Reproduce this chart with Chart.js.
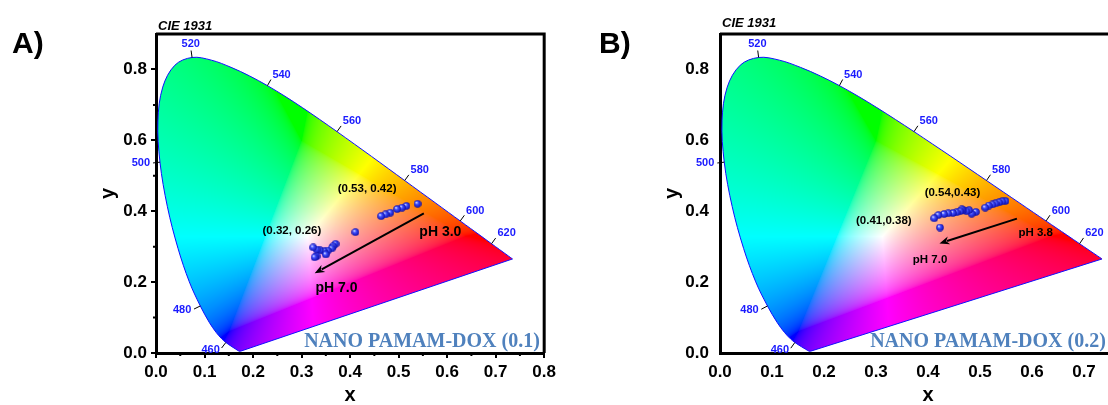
<!DOCTYPE html>
<html>
<head>
<meta charset="utf-8">
<script src="https://cdn.jsdelivr.net/npm/chart.js@4/dist/chart.umd.min.js"></script>
<style>
    html, body { margin: 0; padding: 0; background: #fff; overflow: hidden; }
    #wrap { position: relative; width: 1108px; height: 405px; overflow: hidden; }
    .panel { position: absolute; top: 0; }
    #pa { left: 0; }
    #pb { left: 560px; }
</style>
</head>
<body>
<div id="wrap">
    <div class="panel" id="pa"><canvas id="chartA" width="560" height="405"></canvas></div>
    <div class="panel" id="pb"><canvas id="chartB" width="600" height="405"></canvas></div>
</div>
<script>
// CIE 1931 2-degree spectral locus (wavelength, x, y)
const locusNm = [380, 400, 420, 430, 440, 450, 460, 465, 470, 475, 480, 485, 490, 495, 500, 505, 510, 515, 520, 525, 530,
    535, 540, 545, 550, 555, 560, 565, 570, 575, 580, 585, 590, 595, 600, 605, 610, 615, 620, 630, 640, 650, 660, 680, 700];
const locusX = [0.1741, 0.1733, 0.1714, 0.1689, 0.1644, 0.1566, 0.1440, 0.1355, 0.1241, 0.1096, 0.0913, 0.0687, 0.0454,
    0.0235, 0.0082, 0.0039, 0.0139, 0.0389, 0.0743, 0.1142, 0.1547, 0.1929, 0.2296, 0.2658, 0.3016, 0.3373, 0.3731,
    0.4087, 0.4441, 0.4788, 0.5125, 0.5448, 0.5752, 0.6029, 0.6270, 0.6482, 0.6658, 0.6801, 0.6915, 0.7079, 0.7190,
    0.7260, 0.7300, 0.7334, 0.7347];
const locusY = [0.0050, 0.0048, 0.0051, 0.0069, 0.0109, 0.0177, 0.0297, 0.0399, 0.0578, 0.0868, 0.1327, 0.2007, 0.2950,
    0.4127, 0.5384, 0.6548, 0.7502, 0.8120, 0.8338, 0.8262, 0.8059, 0.7816, 0.7543, 0.7243, 0.6923, 0.6589, 0.6245,
    0.5896, 0.5547, 0.5202, 0.4866, 0.4544, 0.4242, 0.3965, 0.3725, 0.3514, 0.3340, 0.3197, 0.3083, 0.2920, 0.2809,
    0.2740, 0.2700, 0.2666, 0.2653];
const labelNm = [460, 480, 500, 520, 540, 560, 580, 600, 620];

const xTicks = [0, 0.1, 0.2, 0.3, 0.4, 0.5, 0.6, 0.7, 0.8];
const yTicks = [0, 0.2, 0.4, 0.6, 0.8];
const xMinor = [0.05, 0.15, 0.25, 0.35, 0.45, 0.55, 0.65, 0.75];
const yMinor = [0.1, 0.3, 0.5, 0.7];

// NANO PAMAM-DOX (0.1), pH 3.0 -> 7.0
const aX = [0.539, 0.516, 0.507, 0.497, 0.483, 0.473, 0.464, 0.411, 0.370, 0.365, 0.362, 0.354, 0.347, 0.338, 0.331,
    0.324, 0.350, 0.331, 0.327];
const aY = [0.421, 0.415, 0.410, 0.406, 0.396, 0.391, 0.386, 0.341, 0.308, 0.301, 0.295, 0.289, 0.287, 0.290, 0.292,
    0.298, 0.278, 0.273, 0.270];

// NANO PAMAM-DOX (0.2), pH 3.8 -> 7.0
const bX = [0.549, 0.543, 0.537, 0.530, 0.524, 0.517, 0.510, 0.492, 0.484, 0.479, 0.474, 0.468, 0.465, 0.462, 0.455,
    0.448, 0.439, 0.431, 0.420, 0.412, 0.423];
const bY = [0.429, 0.428, 0.425, 0.422, 0.419, 0.416, 0.410, 0.398, 0.393, 0.403, 0.400, 0.403, 0.405, 0.400, 0.397,
    0.395, 0.394, 0.392, 0.389, 0.380, 0.354];

const FONT = "'Liberation Sans', Arial, sans-serif";

const panels = {
    chartA: {
        letter: 'A)', letterX: 12, cieDy: 4, ticks: true, sphere: 8,
        notes: [
            { text: '(0.53, 0.42)', x: 0.435, y: 0.464, size: 11.5 },
            { text: '(0.32, 0.26)', x: 0.280, y: 0.344, size: 11.5 },
            { text: 'pH 3.0', x: 0.586, y: 0.342, size: 14 },
            { text: 'pH 7.0', x: 0.372, y: 0.182, size: 14 }
        ],
        arrow: { from: [0.552, 0.394], to: [0.327, 0.225] },
        name: { text: 'NANO PAMAM-DOX (0.1)', x: 0.791, y: 0.032 }
    },
    chartB: {
        letter: 'B)', letterX: 39, cieDy: 7, ticks: false, sphere: 8,
        notes: [
            { text: '(0.54,0.43)', x: 0.447, y: 0.453, size: 11.5 },
            { text: '(0.41,0.38)', x: 0.315, y: 0.373, size: 11.5 },
            { text: 'pH 3.8', x: 0.607, y: 0.340, size: 11.5 },
            { text: 'pH 7.0', x: 0.404, y: 0.262, size: 11.5 }
        ],
        arrow: { from: [0.571, 0.379], to: [0.422, 0.309] },
        name: { text: 'NANO PAMAM-DOX (0.2)', x: 0.742, y: 0.032 }
    }
};

function sphere(d) {
    const c = document.createElement('canvas');
    c.width = c.height = d;
    const g = c.getContext('2d');
    const r = d / 2;
    const grad = g.createRadialGradient(r * 0.7, r * 0.65, 0.3, r, r, r);
    grad.addColorStop(0, '#d8deff');
    grad.addColorStop(0.35, '#3d4cff');
    grad.addColorStop(1, '#0a0aa0');
    g.fillStyle = grad;
    g.beginPath();
    g.arc(r, r, r - 0.2, 0, Math.PI * 2);
    g.fill();
    return c;
}

// chromaticity -> display colour; out-of-gamut colours get a little white mixed in
function xyToRgb(x, y) {
    const X = x / y, Z = (1 - x - y) / y;
    let r = 3.2406 * X - 1.5372 - 0.4986 * Z;
    let g = -0.9689 * X + 1.8758 + 0.0415 * Z;
    let b = 0.0557 * X - 0.2040 + 1.0570 * Z;
    const lift = Math.max(0, -Math.min(r, g, b)) * 0.35;
    r = Math.max(r + lift, 0); g = Math.max(g + lift, 0); b = Math.max(b + lift, 0);
    const m = Math.max(r, g, b) || 1;
    return [r, g, b].map(v => {
        v = v / m;
        v = v <= 0.0031308 ? 12.92 * v : 1.055 * Math.pow(v, 1 / 2.4) - 0.055;
        return Math.round(v * 255);
    });
}

// outline of the horseshoe, taken from the (smoothed) locus line element
function locusPath(chart, ctx) {
    const line = chart.getDatasetMeta(1).dataset;
    ctx.beginPath();
    if (line && typeof line.path === 'function') {
        line.updateControlPoints(chart.chartArea, 'x');
        line.path(ctx);
    } else {
        const xs = chart.scales.x, ys = chart.scales.y;
        locusX.forEach((x, i) => ctx.lineTo(xs.getPixelForValue(x), ys.getPixelForValue(locusY[i])));
    }
    ctx.closePath();
}

function buildGamut(chart) {
    const xs = chart.scales.x, ys = chart.scales.y;
    const x0 = Math.floor(xs.getPixelForValue(0)), x1 = Math.ceil(xs.getPixelForValue(0.74));
    const y0 = Math.floor(ys.getPixelForValue(0.84)), y1 = Math.ceil(ys.getPixelForValue(0));
    const w = x1 - x0, h = y1 - y0;
    const off = document.createElement('canvas');
    off.width = w; off.height = h;
    const octx = off.getContext('2d');
    const img = octx.createImageData(w, h);
    for (let j = 0; j < h; j++) {
        const cy = Math.max(ys.getValueForPixel(y0 + j + 0.5), 0.002);
        for (let i = 0; i < w; i++) {
            const cx = xs.getValueForPixel(x0 + i + 0.5);
            const c = xyToRgb(cx, cy);
            const k = (j * w + i) * 4;
            img.data[k] = c[0]; img.data[k + 1] = c[1]; img.data[k + 2] = c[2]; img.data[k + 3] = 255;
        }
    }
    octx.putImageData(img, 0, 0);
    return { off, x0, y0 };
}

function drawArrow(ctx, x1, y1, x2, y2) {
    const a = Math.atan2(y2 - y1, x2 - x1);
    const hl = 10, hw = 4;
    ctx.strokeStyle = '#000';
    ctx.fillStyle = '#000';
    ctx.lineWidth = 2;
    ctx.beginPath();
    ctx.moveTo(x1, y1);
    ctx.lineTo(x2 - Math.cos(a) * hl * 0.8, y2 - Math.sin(a) * hl * 0.8);
    ctx.stroke();
    ctx.beginPath();
    ctx.moveTo(x2, y2);
    ctx.lineTo(x2 - Math.cos(a) * hl + Math.sin(a) * hw, y2 - Math.sin(a) * hl - Math.cos(a) * hw);
    ctx.lineTo(x2 - Math.cos(a) * hl * 0.7, y2 - Math.sin(a) * hl * 0.7);
    ctx.lineTo(x2 - Math.cos(a) * hl - Math.sin(a) * hw, y2 - Math.sin(a) * hl + Math.cos(a) * hw);
    ctx.closePath();
    ctx.fill();
}

const decor = {
    id: 'decor',
    beforeDatasetsDraw(chart) {
        const ctx = chart.ctx;
        if (!chart.$gamut) chart.$gamut = buildGamut(chart);
        ctx.save();
        locusPath(chart, ctx);
        ctx.clip();
        ctx.drawImage(chart.$gamut.off, chart.$gamut.x0, chart.$gamut.y0);
        ctx.restore();
    },
    afterDraw(chart) {
        const cfg = panels[chart.canvas.id];
        const ctx = chart.ctx;
        const xs = chart.scales.x, ys = chart.scales.y;
        const area = chart.chartArea;
        ctx.save();

        // top and right frame
        ctx.strokeStyle = '#000';
        ctx.lineWidth = 3;
        ctx.beginPath();
        ctx.moveTo(area.left, area.top);
        ctx.lineTo(area.right, area.top);
        ctx.lineTo(area.right, area.bottom);
        ctx.stroke();

        // minor ticks
        if (cfg.ticks) {
            ctx.lineWidth = 2;
            ctx.beginPath();
            xMinor.forEach(v => {
                const px = xs.getPixelForValue(v);
                ctx.moveTo(px, area.bottom);
                ctx.lineTo(px, area.bottom + 3);
            });
            yMinor.forEach(v => {
                const py = ys.getPixelForValue(v);
                ctx.moveTo(area.left, py);
                ctx.lineTo(area.left - 3, py);
            });
            ctx.stroke();
        }

        // wavelength ticks and labels
        const wx = 0.3127, wy = 0.329;
        ctx.font = 'bold 11px ' + FONT;
        ctx.textBaseline = 'middle';
        labelNm.forEach(nm => {
            const i = locusNm.indexOf(nm);
            const px = xs.getPixelForValue(locusX[i]), py = ys.getPixelForValue(locusY[i]);
            const tx = xs.getPixelForValue(locusX[i + 1]) - xs.getPixelForValue(locusX[i - 1]);
            const ty = ys.getPixelForValue(locusY[i + 1]) - ys.getPixelForValue(locusY[i - 1]);
            const len = Math.hypot(tx, ty);
            let nx = ty / len, ny = -tx / len;
            const cx = xs.getPixelForValue(wx) - px, cy = ys.getPixelForValue(wy) - py;
            if (nx * cx + ny * cy > 0) { nx = -nx; ny = -ny; }
            const ex = px + nx * 7, ey = py + ny * 7;
            ctx.strokeStyle = '#000';
            ctx.lineWidth = 1;
            ctx.beginPath();
            ctx.moveTo(px, py);
            ctx.lineTo(ex, ey);
            ctx.stroke();
            ctx.fillStyle = '#1a1aff';
            let lx = ex + nx * 3, ly = ey + ny * 2;
            if (nx > 0.3) ctx.textAlign = 'left';
            else if (nx < -0.3) ctx.textAlign = 'right';
            else { ctx.textAlign = 'center'; ly += ny * 5; }
            if (nx > 0.3 && ny < 0) ly -= 3;
            ctx.fillText(String(nm), lx, ly);
        });

        // arrow
        drawArrow(ctx, xs.getPixelForValue(cfg.arrow.from[0]), ys.getPixelForValue(cfg.arrow.from[1]),
            xs.getPixelForValue(cfg.arrow.to[0]), ys.getPixelForValue(cfg.arrow.to[1]));

        // notes
        ctx.fillStyle = '#000';
        ctx.textAlign = 'center';
        ctx.textBaseline = 'middle';
        cfg.notes.forEach(n => {
            ctx.font = 'bold ' + n.size + 'px ' + FONT;
            ctx.fillText(n.text, xs.getPixelForValue(n.x), ys.getPixelForValue(n.y));
        });

        // sample name
        ctx.font = "bold 20px 'Liberation Serif', 'Times New Roman', serif";
        ctx.fillStyle = '#4f81bd';
        ctx.textAlign = 'right';
        ctx.fillText(cfg.name.text, xs.getPixelForValue(cfg.name.x), ys.getPixelForValue(cfg.name.y));

        // CIE 1931 caption and panel letter
        ctx.fillStyle = '#000';
        ctx.textAlign = 'left';
        ctx.textBaseline = 'alphabetic';
        ctx.font = 'italic bold 13px ' + FONT;
        ctx.fillText('CIE 1931', area.left + 2, area.top - cfg.cieDy);
        ctx.font = 'bold 30px ' + FONT;
        ctx.fillText(cfg.letter, cfg.letterX, 53);

        ctx.restore();
    }
};

function makeChart(id, xs, ys, pad) {
    const cfg = panels[id];
    const tickFont = { family: FONT, size: 17, weight: 'bold' };
    const titleFont = { family: FONT, size: 20, weight: 'bold' };
    const grid = cfg.ticks
        ? { display: true, drawOnChartArea: false, drawTicks: true, tickLength: 5, tickWidth: 2, tickColor: '#000', lineWidth: 2, color: '#000' }
        : { display: false, drawTicks: false };
    const points = xs.map((x, i) => ({ x, y: ys[i] }));
    const locus = locusX.map((x, i) => ({ x, y: locusY[i] }));
    const n = locusX.length - 1;
    const purple = [{ x: locusX[n], y: locusY[n] }, { x: locusX[0], y: locusY[0] }];

    return new Chart(document.getElementById(id), {
        type: 'scatter',
        data: {
            datasets: [{
                data: points,
                pointStyle: sphere(cfg.sphere),
                pointRadius: cfg.sphere / 2,
                order: 0
            }, {
                data: locus,
                showLine: true,
                borderColor: '#1010ff',
                borderWidth: 1,
                pointRadius: 0,
                tension: 0.35,
                order: 1
            }, {
                data: purple,
                showLine: true,
                borderColor: '#1010ff',
                borderWidth: 1,
                pointRadius: 0,
                order: 2
            }]
        },
        options: {
            responsive: false,
            animation: false,
            events: [],
            layout: { padding: pad },
            plugins: { legend: { display: false }, tooltip: { enabled: false } },
            scales: {
                x: {
                    type: 'linear', min: 0, max: 0.8,
                    afterBuildTicks: s => { s.ticks = xTicks.map(v => ({ value: v })); },
                    afterFit: s => { s.height = 52; },
                    grid: grid,
                    border: { display: true, width: 3, color: '#000' },
                    ticks: { font: tickFont, color: '#000', padding: cfg.ticks ? 4 : 9, maxRotation: 0, callback: v => v.toFixed(1) },
                    title: { display: true, text: 'x', font: titleFont, color: '#000', padding: { top: 0, bottom: -2 } }
                },
                y: {
                    type: 'linear', min: 0, max: 0.9,
                    afterBuildTicks: s => { s.ticks = yTicks.map(v => ({ value: v })); },
                    afterFit: s => { s.width = 60; },
                    grid: grid,
                    border: { display: true, width: 3, color: '#000' },
                    ticks: { font: tickFont, color: '#000', padding: cfg.ticks ? 4 : 11, callback: v => v.toFixed(1) },
                    title: { display: true, text: 'y', font: titleFont, color: '#000', padding: 0 }
                }
            }
        },
        plugins: [decor]
    });
}

makeChart('chartA', aX, aY, { left: 96, top: 34, right: 12, bottom: 0 });
makeChart('chartB', bX, bY, { left: 100, top: 34, right: 24, bottom: 0 });
</script>
</body>
</html>
